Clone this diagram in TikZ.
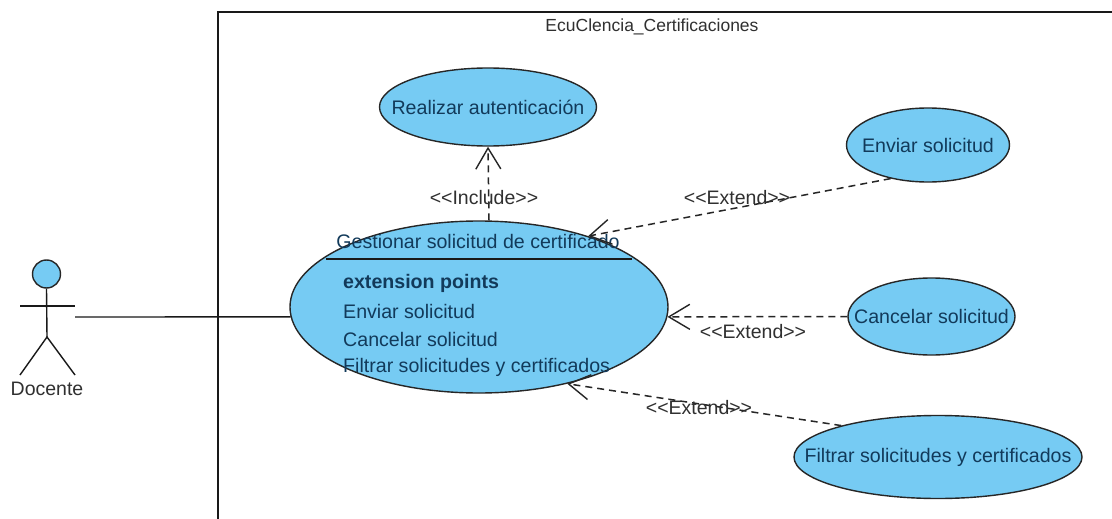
\documentclass[tikz,border=0pt]{standalone}
\usepackage{fontspec}
\setmainfont{Liberation Sans}
\usetikzlibrary{shapes.geometric,arrows.meta}
\definecolor{ucfill}{HTML}{76CBF3}
\definecolor{uctext}{HTML}{123A5A}
\definecolor{lbl}{HTML}{303030}
\tikzset{
  uc/.style={ellipse,draw=black!85,line width=1.4pt,fill=ucfill,inner sep=0pt},
  uct/.style={inner sep=0pt,text=uctext,font=\fontsize{19.6}{22}\selectfont},
  lab/.style={inner sep=0pt,text=lbl,font=\fontsize{19.5}{22}\selectfont},
  pt/.style={uct,anchor=west},
  rel/.style={dash pattern=on 7pt off 5pt,line width=1.5pt,black!85,-{Straight Barb[length=21pt,width=25pt,line width=1.4pt]}},
  ln/.style={line width=1.4pt,black!90}
}
\begin{document}
\begin{tikzpicture}[x=1pt,y=-1pt]
\useasboundingbox (0,0) rectangle (1112,519);
\fill[white] (0,0) rectangle (1112,519);
% system boundary
\coordinate (fa) at (218,519);
\coordinate (fb) at (218,12);
\coordinate (fc) at (1112,12);
\draw[ln] (fa) -- (fb) -- (fc);
\node[lab,font=\fontsize{17.5}{20}\selectfont] (sys) at (652,27) {EcuClencia\_Certificaciones};
% use cases
\node[uc,minimum width=217pt,minimum height=78pt,label={[uct]center:Realizar autenticación}] (auth) at (488,107) {};
\node[uc,minimum width=378pt,minimum height=172pt] (main) at (479,307) {};
\node[uc,minimum width=163pt,minimum height=74pt,label={[uct]center:Enviar solicitud}] (env) at (928,145) {};
\node[uc,minimum width=167pt,minimum height=77pt,label={[uct]center:Cancelar solicitud}] (can) at (931.5,316.5) {};
\node[uc,minimum width=288pt,minimum height=83pt,label={[uct]center:Filtrar solicitudes y certificados}] (fil) at (938,457) {};
\coordinate (dl) at (326,259);
\coordinate (dr) at (632,259);
\draw[ln] (dl) -- (dr);
\node[uct] (title) at (478,241) {Gestionar solicitud de certificado};
\node[pt,font=\fontsize{19.6}{22}\selectfont\bfseries] (ep) at (343,283) {extension points};
\node[pt] (ep1) at (343,311) {Enviar solicitud};
\node[pt] (ep2) at (343,339) {Cancelar solicitud};
\node[pt] (ep3) at (343,367) {Filtrar solicitudes y certificados};
% actor
\node[circle,draw=black!85,line width=1.4pt,fill=ucfill,minimum size=28pt,inner sep=0pt] (head) at (46.5,274) {};
\coordinate (hip) at (47,337);
\coordinate (armL) at (20,306);
\coordinate (armR) at (75,306);
\coordinate (legL) at (20,375);
\coordinate (legR) at (75,375);
\coordinate (hand) at (75,317);
\draw[ln] (head.south) -- (hip);
\draw[ln] (armL) -- (armR);
\draw[ln] (legL) -- (hip) -- (legR);
\node[lab] (doc) at (47,389) {Docente};
% connectors
\draw[ln] (hand) -- (main.183);
\draw[rel] (main.north) ++(10,0) coordinate (mn) (mn) -- (auth.south);
\draw[rel] (env.222) -- (main.33);
\draw[rel] (can.west) -- (main.-3);
\draw[rel] (fil.162) -- (main.-41.5);
% labels
\node[lab] (l1) at (484,198) {<{}<Include>{}>};
\node[lab] (l2) at (737,198) {<{}<Extend>{}>};
\node[lab] (l3) at (753,332) {<{}<Extend>{}>};
\node[lab] (l4) at (699,408) {<{}<Extend>{}>};
\end{tikzpicture}
\end{document}
